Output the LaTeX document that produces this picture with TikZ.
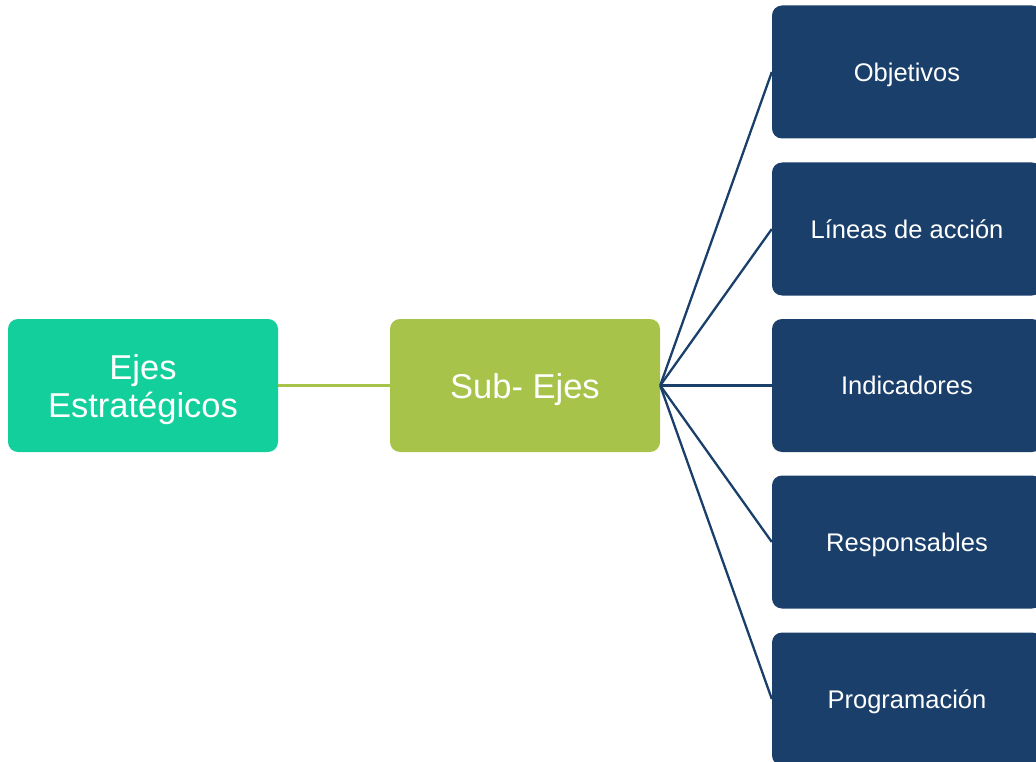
\documentclass[tikz,border=0pt]{standalone}
\usepackage{fontspec}
\setmainfont{Liberation Sans}
\definecolor{teal1}{HTML}{13CF9B}
\definecolor{green1}{HTML}{A7C34A}
\definecolor{navy1}{HTML}{1A3F6B}
\begin{document}
\begin{tikzpicture}[x=1pt,y=-1pt,
  box/.style={rounded corners=10pt, minimum width=270pt, minimum height=133pt, inner sep=0pt, text=white, align=center, text depth=0pt},
  bigtxt/.style={font=\fontsize{34.5}{38}\selectfont},
  smalltxt/.style={font=\fontsize{25.5}{28}\selectfont},
  link/.style={line width=2.3pt}]
\useasboundingbox (0,0) rectangle (1036,762);
\begin{scope}
\clip (0,0) rectangle (1036,762);
\node[box, fill=teal1, bigtxt] (ejes) at (143,385.5) {Ejes\\Estratégicos};
\node[box, fill=green1, bigtxt] (sub) at (525,385.5) {Sub- Ejes};
\node[box, fill=navy1, smalltxt] (obj) at (907,72) {Objetivos};
\node[box, fill=navy1, smalltxt] (lin) at (907,229) {Líneas de acción};
\node[box, fill=navy1, smalltxt] (ind) at (907,385.5) {Indicadores};
\node[box, fill=navy1, smalltxt] (res) at (907,542) {Responsables};
\node[box, fill=navy1, smalltxt] (pro) at (907,699) {Programación};
\end{scope}
\draw[link, green1] (ejes.east) -- (sub.west);
\foreach \t in {obj,lin,ind,res,pro}
  \draw[link, navy1] (sub.east) -- (\t.west);
\end{tikzpicture}
\end{document}
